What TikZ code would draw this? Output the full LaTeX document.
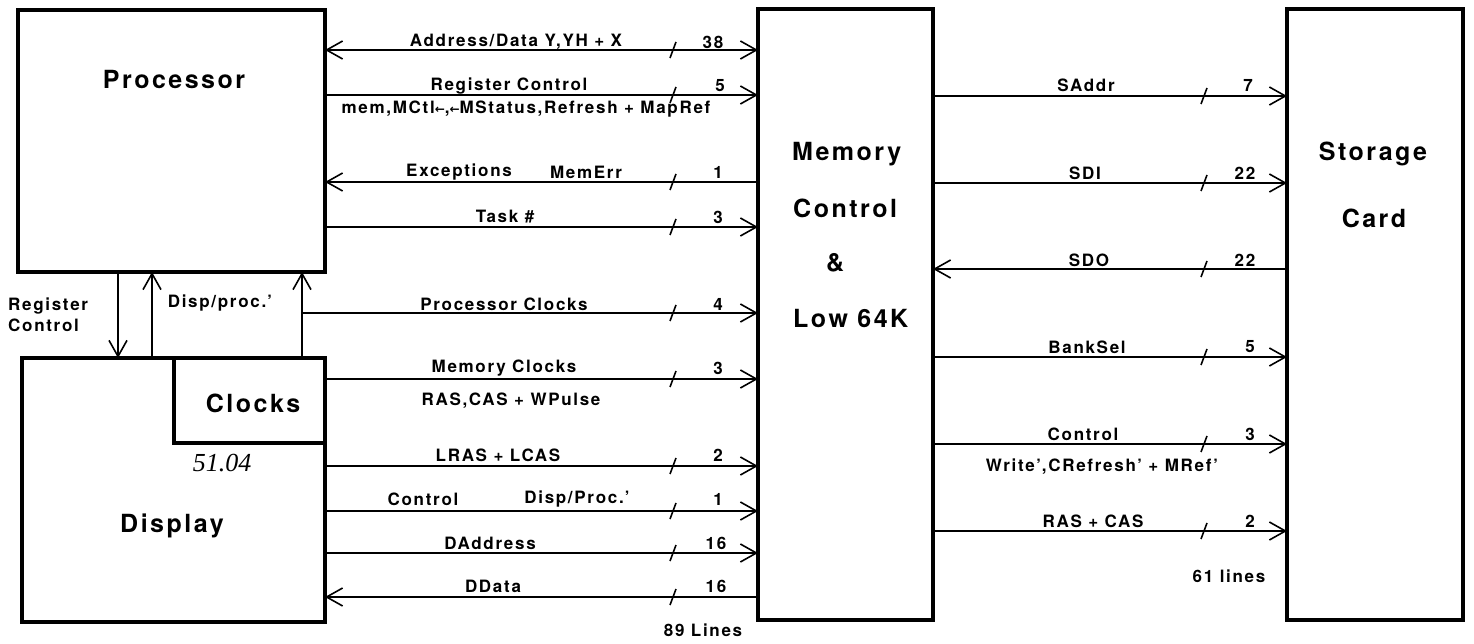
\documentclass[tikz,border=0pt]{standalone}
\usepackage{fontspec}
\setmainfont{TeX Gyre Heros}[LetterSpace=10]
\newfontfamily\handfont{Liberation Serif}
\newfontfamily\symfont{DejaVu Sans}
\usetikzlibrary{arrows.meta}
\begin{document}
\begin{tikzpicture}[x=1pt,y=-1pt,
  >={Straight Barb[length=16pt,width=18pt,line width=1.6pt]},
  box/.style={draw,line width=4.5pt,inner sep=0pt,outer sep=0pt},
  big/.style={font=\bfseries\fontsize{25}{30}\selectfont,inner sep=0pt},
  lbl/.style={font=\bfseries\fontsize{17}{21}\selectfont,inner sep=0pt},
  bus/.style={line width=1.6pt},
  tick/.style={line width=1.6pt}]
\useasboundingbox (0,0) rectangle (1474,644);
\fill[white] (0,0) rectangle (1474,644);
% boxes
\node[box,minimum width=307pt,minimum height=262pt] (proc) at (171.5,141) {};
\node[box,minimum width=303pt,minimum height=264pt] (disp) at (173.5,490) {};
\node[box,minimum width=151pt,minimum height=85pt] (clk) at (249.5,400.5) {};
\node[box,minimum width=175pt,minimum height=611pt] (mem) at (845.5,314.5) {};
\node[box,minimum width=176pt,minimum height=611pt] (stor) at (1375,314.5) {};
% box texts
\node[big] (tproc) at (174,80) {Processor};
\node[big] (tdisp) at (172,526) {Display};
\node[big] (tclk) at (253,403) {Clocks};
\node[big,anchor=west] (tmem1) at (792,154) {Memory};
\node[big,anchor=west] (tmem2) at (793,208) {Control};
\node[big,anchor=west] (tmem3) at (826,263) {\&};
\node[big,anchor=west] (tmem4) at (793,318) {Low 64K};
\node[big] (tsto1) at (1373,154) {Storage};
\node[big] (tsto2) at (1374,218) {Card};
\node[font=\handfont\itshape\fontsize{26}{30}\selectfont,inner sep=0pt] (hand) at (222,463) {51.04};
% vertical connectors
\draw[bus,->] (proc.south -| 118,0) -- (disp.north -| 118,0);
\draw[bus,->] (disp.north -| 152,0) -- (proc.south -| 152,0);
\coordinate (pc) at (302,313);
\draw[bus,->] (clk.north -| pc) -- (proc.south -| pc);
\node[lbl,anchor=west,align=left] (lregc) at (8,315) {Register\\Control};
\node[lbl] (ldp) at (220,303) {Disp/proc.'};
% left bus
\draw[bus,<->] (proc.east |- 0,50) -- (mem.west |- 0,50);
\draw[bus,->] (proc.east |- 0,95) -- (mem.west |- 0,95);
\draw[bus,<-] (proc.east |- 0,182) -- (mem.west |- 0,182);
\draw[bus,->] (proc.east |- 0,227) -- (mem.west |- 0,227);
\draw[bus,->] (pc) -- (mem.west |- pc);
\draw[bus,->] (clk.east |- 0,379) -- (mem.west |- 0,379);
\draw[bus,->] (disp.east |- 0,466) -- (mem.west |- 0,466);
\draw[bus,->] (disp.east |- 0,511) -- (mem.west |- 0,511);
\draw[bus,->] (disp.east |- 0,553) -- (mem.west |- 0,553);
\draw[bus,<-] (disp.east |- 0,597) -- (mem.west |- 0,597);
\foreach \yy in {50,95,182,227,313,379,466,511,553,597}
  \draw[tick] (670,\yy+8) -- (676,\yy-8);
% left labels
\node[lbl] (a1) at (516,42) {Address/Data Y,YH + X};
\node[lbl] (a2) at (509,86) {Register Control};
\node[lbl] (a3) at (526,109) {mem,MCtl{\symfont\fontsize{12}{14}\selectfont←},{\symfont\fontsize{12}{14}\selectfont←}MStatus,Refresh + MapRef};
\node[lbl] (a4) at (459,172) {Exceptions};
\node[lbl] (a5) at (586,172) {MemErr};
\node[lbl] (a6) at (505,217) {Task \#};
\node[lbl] (a7) at (504,304) {Processor Clocks};
\node[lbl] (a8) at (504,368) {Memory Clocks};
\node[lbl] (a9) at (511,401) {RAS,CAS + WPulse};
\node[lbl] (a10) at (498,455) {LRAS + LCAS};
\node[lbl] (a11) at (423,499) {Control};
\node[lbl] (a12) at (577,499) {Disp/Proc.'};
\node[lbl] (a13) at (490,543) {DAddress};
\node[lbl] (a14) at (493,586) {DData};
\node[lbl] (a15) at (703,630) {89 Lines};
\node[lbl] (n1) at (713,42) {38};
\node[lbl] (n2) at (720,86) {5};
\node[lbl] (n3) at (718,172) {1};
\node[lbl] (n4) at (718,217) {3};
\node[lbl] (n5) at (718,304) {4};
\node[lbl] (n6) at (718,368) {3};
\node[lbl] (n7) at (718,455) {2};
\node[lbl] (n8) at (718,499) {1};
\node[lbl] (n9) at (716,543) {16};
\node[lbl] (n10) at (716,586) {16};
% right bus
\draw[bus,->] (mem.east |- 0,96) -- (stor.west |- 0,96);
\draw[bus,->] (mem.east |- 0,183) -- (stor.west |- 0,183);
\draw[bus,<-] (mem.east |- 0,269) -- (stor.west |- 0,269);
\draw[bus,->] (mem.east |- 0,357) -- (stor.west |- 0,357);
\draw[bus,->] (mem.east |- 0,444) -- (stor.west |- 0,444);
\draw[bus,->] (mem.east |- 0,531) -- (stor.west |- 0,531);
\foreach \yy in {96,183,269,357,444,531}
  \draw[tick] (1201,\yy+8) -- (1207,\yy-8);
\node[lbl] (b1) at (1086,85) {SAddr};
\node[lbl] (b2) at (1085,173) {SDI};
\node[lbl] (b3) at (1089,260) {SDO};
\node[lbl] (b4) at (1087,347) {BankSel};
\node[lbl] (b5) at (1083,434) {Control};
\node[lbl] (b6) at (1102,467) {Write',CRefresh' + MRef'};
\node[lbl] (b7) at (1093,521) {RAS + CAS};
\node[lbl] (b8) at (1229,576) {61 lines};
\node[lbl] (m1) at (1248,85) {7};
\node[lbl] (m2) at (1245,173) {22};
\node[lbl] (m3) at (1245,260) {22};
\node[lbl] (m4) at (1250,347) {5};
\node[lbl] (m5) at (1250,434) {3};
\node[lbl] (m6) at (1250,521) {2};
\end{tikzpicture}
\end{document}
